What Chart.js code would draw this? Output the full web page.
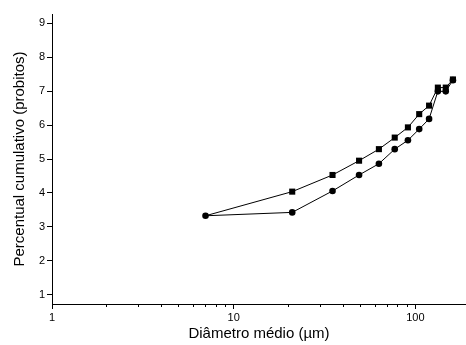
<!DOCTYPE html>
<html>
<head>
<meta charset="utf-8">
<script src="https://cdn.jsdelivr.net/npm/chart.js@4/dist/chart.umd.min.js"></script>
<style>
html,body{margin:0;padding:0;background:#fff;}
canvas{display:block;}
</style>
</head>
<body>
<canvas id="c" width="466" height="345"></canvas>
<script>
// Data
const diameters = [7, 21, 35, 49, 63, 77, 91, 105, 119, 133, 147, 161];
const seriesSquares = [3.33, 4.04, 4.53, 4.95, 5.29, 5.63, 5.93, 6.32, 6.57, 7.10, 7.10, 7.34];
const seriesCircles = [3.33, 3.43, 4.06, 4.53, 4.86, 5.29, 5.55, 5.88, 6.18, 6.99, 6.99, 7.32];
const xMajorTicks = [1, 10, 100];
const xMinorTicks = [2, 3, 4, 5, 6, 7, 8, 9, 20, 30, 40, 50, 60, 70, 80, 90];
const yTicks = [1, 2, 3, 4, 5, 6, 7, 8, 9];
const xTitle = 'Diâmetro médio (µm)';
const yTitle = 'Percentual cumulativo (probitos)';

const toPoints = (ys) => diameters.map((d, i) => ({x: d, y: ys[i]}));
const font = 'Liberation Sans, Arial, Helvetica, sans-serif';

new Chart(document.getElementById('c'), {
  type: 'line',
  data: {
    datasets: [
      {
        data: toPoints(seriesSquares),
        borderColor: '#000', backgroundColor: '#000', borderWidth: 1,
        pointStyle: 'rect',
        pointRadius: (ctx) => ctx.dataIndex === 0 ? 0 : 4.3,
        pointBorderWidth: 0,
        tension: 0, xAxisID: 'x', yAxisID: 'y'
      },
      {
        data: toPoints(seriesCircles),
        borderColor: '#000', backgroundColor: '#000', borderWidth: 1,
        pointStyle: 'circle', pointRadius: 3.3, pointBorderWidth: 0,
        tension: 0, xAxisID: 'x', yAxisID: 'y'
      }
    ]
  },
  options: {
    responsive: false,
    animation: false,
    layout: {autoPadding: false, padding: {top: 14, right: 0, left: 0, bottom: 0}},
    plugins: {legend: {display: false}, tooltip: {enabled: false}},
    scales: {
      x: {
        type: 'logarithmic', position: 'bottom', weight: 1,
        min: 1, max: 190,
        afterBuildTicks: (s) => { s.ticks = xMajorTicks.map(v => ({value: v})); },
        afterFit: (s) => { s.height = 41; s.paddingRight = 0; s.paddingLeft = 0; },
        ticks: {color: '#000', font: {family: font, size: 11}, padding: 2, maxRotation: 0,
                callback: (v) => String(v)},
        grid: {drawOnChartArea: false, drawTicks: true, tickLength: 5, color: '#000', lineWidth: 1},
        border: {display: true, color: '#000', width: 1},
        title: {display: true, text: xTitle, color: '#000', font: {family: font, size: 15},
                padding: {top: 0, bottom: 2}}
      },
      xMinor: {
        type: 'logarithmic', position: 'bottom', weight: 0,
        min: 1, max: 190,
        afterBuildTicks: (s) => { s.ticks = xMinorTicks.map(v => ({value: v})); },
        afterFit: (s) => { s.height = 0; s.paddingRight = 0; s.paddingLeft = 0; },
        ticks: {display: false},
        grid: {drawOnChartArea: false, drawTicks: true, tickLength: 3, color: '#000', lineWidth: 1},
        border: {display: false}
      },
      y: {
        type: 'linear', position: 'left',
        min: 0.735, max: 9.265,
        afterBuildTicks: (s) => { s.ticks = yTicks.map(v => ({value: v})); },
        afterFit: (s) => { s.width = 52; s.paddingTop = 0; s.paddingBottom = 0; },
        ticks: {color: '#000', font: {family: font, size: 11}, padding: 2,
                callback: (v) => String(v)},
        grid: {drawOnChartArea: false, drawTicks: true, tickLength: 5, color: '#000', lineWidth: 1},
        border: {display: true, color: '#000', width: 1},
        title: {display: true, text: yTitle, color: '#000', font: {family: font, size: 15},
                padding: {top: 11, bottom: 0}}
      }
    }
  }
});
</script>
</body>
</html>
